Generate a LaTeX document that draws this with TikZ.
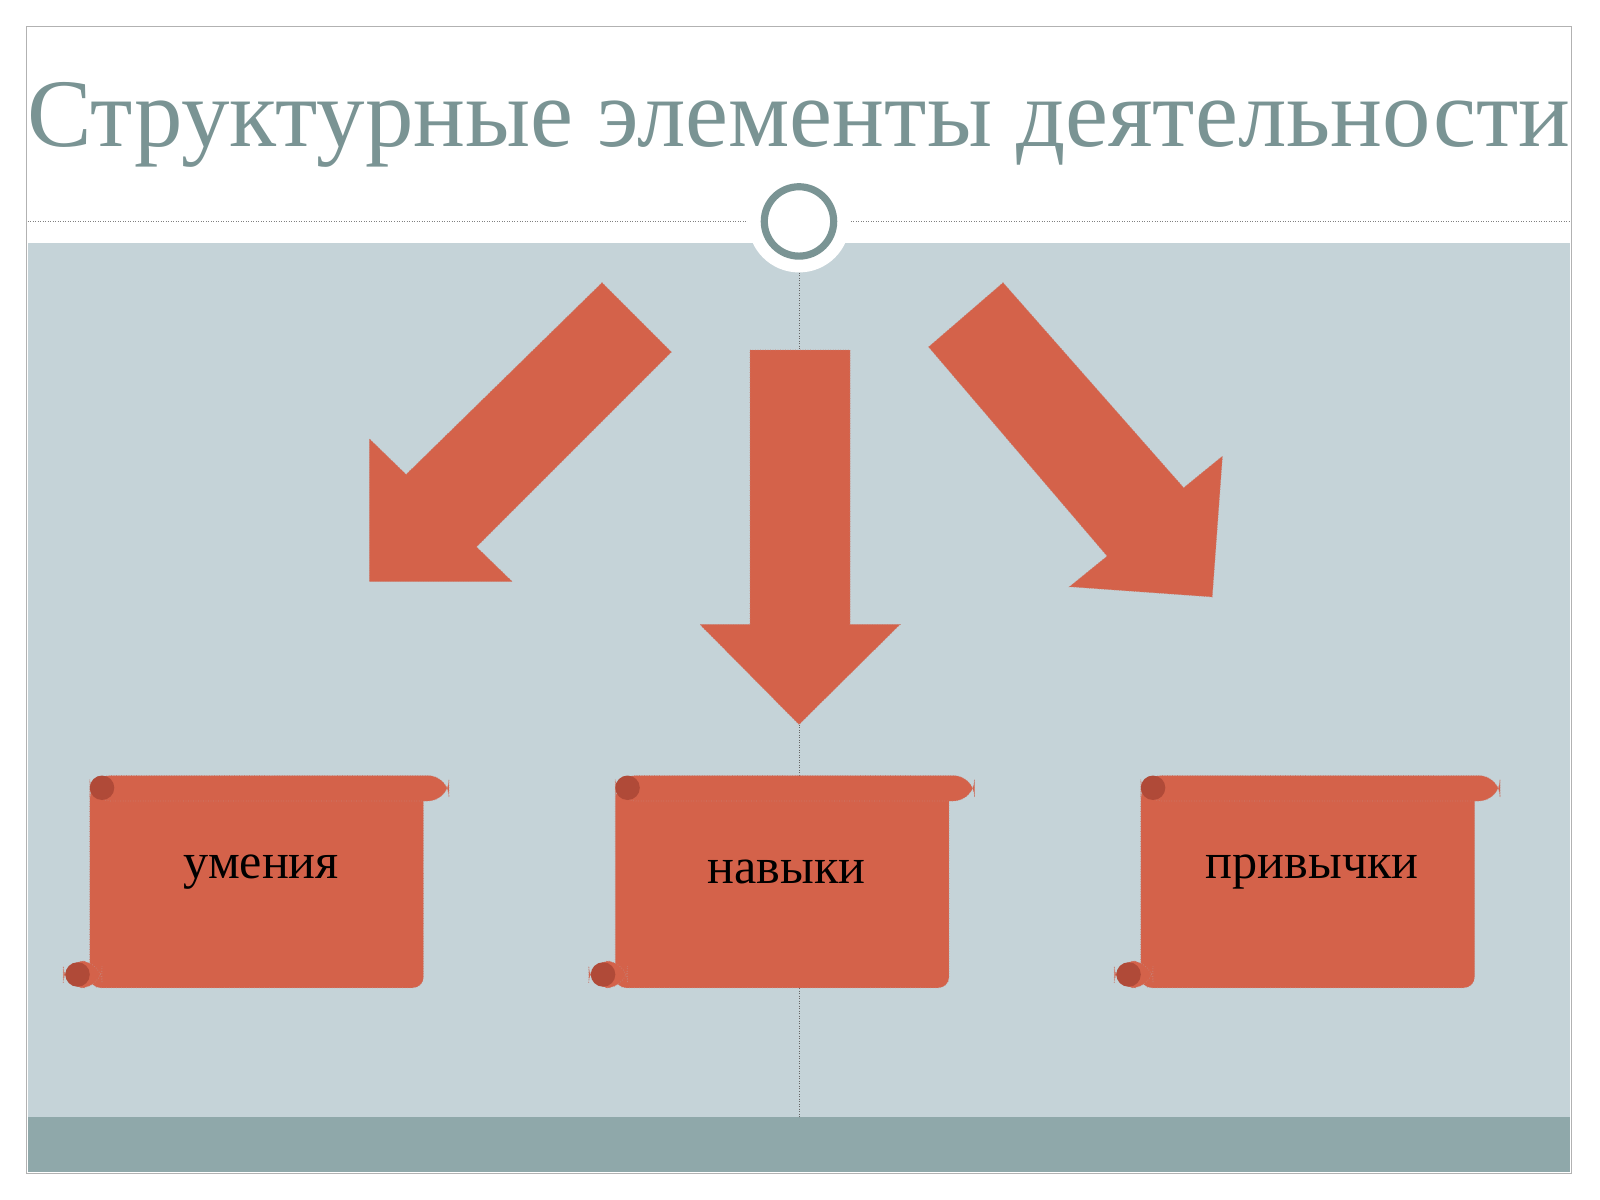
\documentclass[tikz,border=0pt]{standalone}
\usepackage{fontspec}
\setmainfont{Liberation Serif}
\definecolor{bg}{HTML}{C5D3D8}
\definecolor{bar}{HTML}{8FA8AA}
\definecolor{ttl}{HTML}{7A9494}
\definecolor{arr}{HTML}{D4624A}
\definecolor{arrd}{HTML}{B04A38}
\begin{document}
\begin{tikzpicture}[x=0.02cm,y=-0.02cm,
  arrow/.style={fill=arr,draw=arrd!70,densely dotted,line width=0.4pt},
  scr/.style={fill=arr,draw=arrd!70,densely dotted,line width=0.4pt},
  lbl/.style={font=\fontsize{28}{34}\selectfont,text=black}]
\useasboundingbox (0,0) rectangle (1568,1176);
\fill[white] (0,0) rectangle (1568,1176);
\draw[gray!60,fill=white] (26,26) rectangle (1540,1150);
\fill[bg] (27,238) rectangle (1539,1095);
\fill[bar] (27,1095) rectangle (1539,1149);
\draw[gray,densely dotted] (27,217) -- (1539,217);
\draw[gray!80!black,densely dotted] (783,255) -- (783,1095);
\node[font=\fontsize{54}{64}\selectfont,text=ttl] (title) at (783,122) {Структурные элементы деятельности};
\node[circle,fill=white,minimum size=100*0.02cm] (cw) at (783,217) {};
\node[circle,draw=ttl,line width=4pt,fill=white,minimum size=68*0.02cm] (c) at (783,217) {};
\draw[arrow] (590,277)--(658,345)--(467,536)--(502,570)--(362,570)--(362,430)--(398,465)--cycle;
\draw[arrow] (735,343)--(833,343)--(833,612)--(882,612)--(783,710)--(686,612)--(735,612)--cycle;
\draw[arrow] (983,277)--(910,340)--(1085,545)--(1048,575)--(1188,585)--(1198,447)--(1160,478)--cycle;
\foreach \dx/\t/\n in {0/умения/a,515/навыки/b,1030/привычки/c}{
  \begin{scope}[xshift=\dx*0.02cm]
  \draw[scr,rounded corners=6] (88,772) rectangle (415,968);
  \draw[scr,rounded corners=12] (88,760) rectangle (440,785);
  \draw[scr,rounded corners=12] (62,942) rectangle (100,968);
  \fill[arrd] (100,772) circle (12);
  \fill[arrd] (76,955) circle (12);
  \end{scope}
  \node[lbl] (\n) at (256+\dx,855) {\t};
}
\end{tikzpicture}
\end{document}
